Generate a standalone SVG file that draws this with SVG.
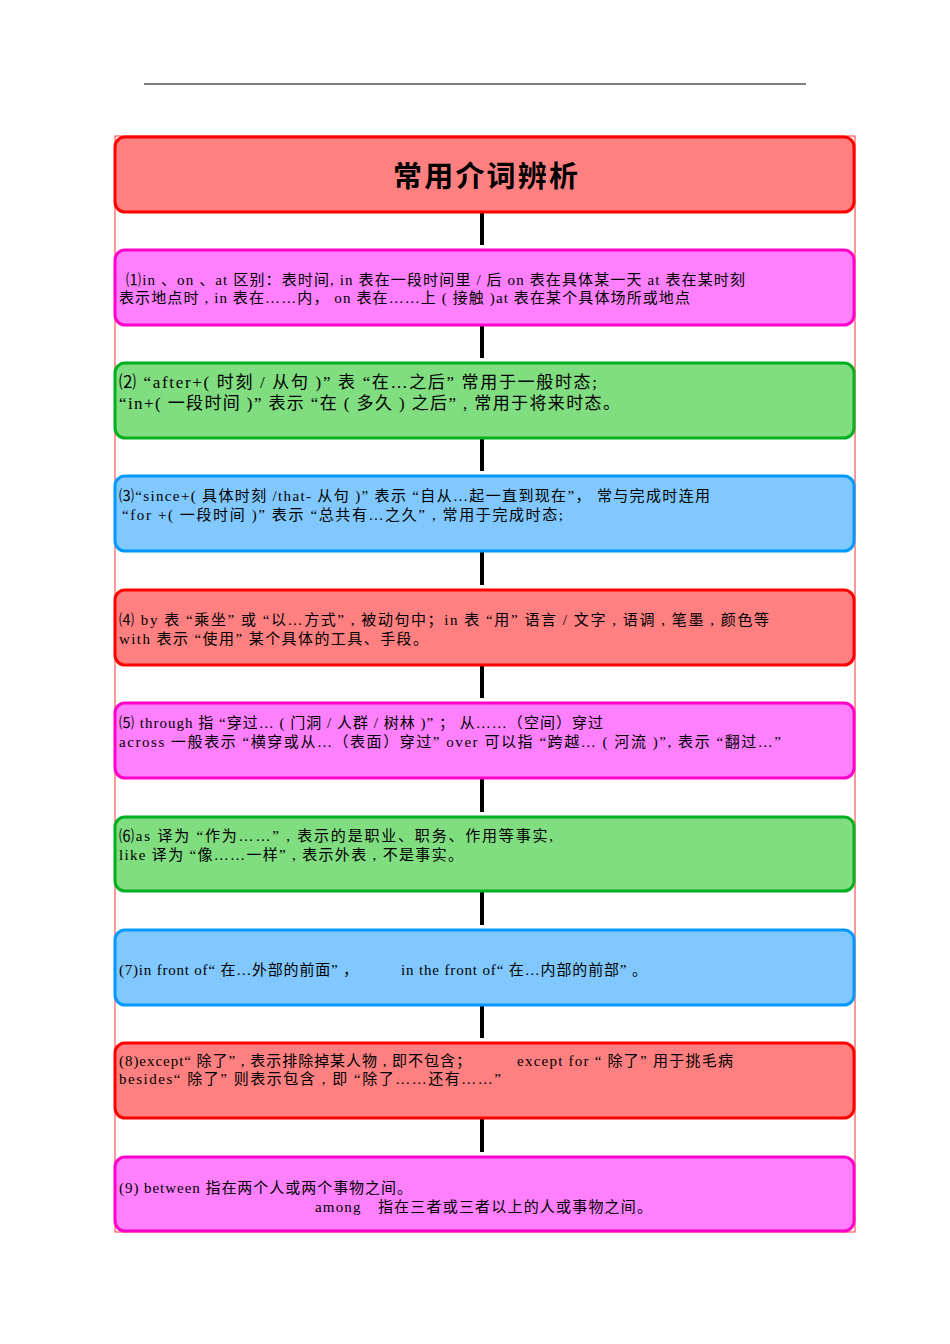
<svg xmlns="http://www.w3.org/2000/svg" width="950" height="1344" viewBox="0 0 950 1344">
<style>
.b{stroke-width:3}
.r{fill:#ff8080;stroke:#ff0000}
.m{fill:#ff80ff;stroke:#ff00cc}
.g{fill:#80dd80;stroke:#00b020}
.c{fill:#80c8ff;stroke:#0099ff}
text{font-family:"Liberation Serif","Noto Sans CJK SC",serif;font-size:15px;fill:#000}
.t{font-family:"Noto Sans CJK SC",sans-serif;font-size:29px;font-weight:bold}
</style>
<rect width="950" height="1344" fill="#fff"/>
<line x1="144" y1="84" x2="806" y2="84" stroke="#000" stroke-width="1"/>
<rect x="115" y="136" width="740" height="1096" fill="none" stroke="#ff0000" stroke-width="0.8"/>
<g id="connectors" stroke="#000" stroke-width="4">
<line x1="482" y1="213" x2="482" y2="245"/>
<line x1="482" y1="326" x2="482" y2="358"/>
<line x1="482" y1="439" x2="482" y2="471"/>
<line x1="482" y1="552" x2="482" y2="585"/>
<line x1="482" y1="666" x2="482" y2="698"/>
<line x1="482" y1="779" x2="482" y2="812"/>
<line x1="482" y1="892" x2="482" y2="925"/>
<line x1="482" y1="1006" x2="482" y2="1038"/>
<line x1="482" y1="1119" x2="482" y2="1152"/>
</g>
<g id="title"><rect class="b r" x="115" y="137" width="739" height="75" rx="10"/><text class="t" x="393" y="187" textLength="185" lengthAdjust="spacing">常用介词辨析</text></g>
<g id="n1"><rect class="b m" x="115" y="250" width="739" height="75" rx="10"/><text x="126" y="285" textLength="619" lengthAdjust="spacing">⑴in 、on 、at 区别：表时间, in 表在一段时间里 / 后 on 表在具体某一天 at 表在某时刻</text><text x="119" y="303" textLength="571" lengthAdjust="spacing">表示地点时 , in 表在……内， on 表在……上 ( 接触 )at 表在某个具体场所或地点</text></g>
<g id="n2"><rect class="b g" x="115" y="363" width="739" height="75" rx="10"/><text x="119" y="388" style="font-size:17px" textLength="478" lengthAdjust="spacing">⑵ “after+( 时刻 / 从句 )” 表 “在…之后” 常用于一般时态;</text><text x="119" y="409" style="font-size:17px" textLength="501" lengthAdjust="spacing">“in+( 一段时间 )” 表示 “在 ( 多久 ) 之后” , 常用于将来时态。</text></g>
<g id="n3"><rect class="b c" x="115" y="476" width="739" height="75" rx="10"/><text x="119" y="501" textLength="591" lengthAdjust="spacing">⑶“since+( 具体时刻 /that- 从句 )” 表示 “自从…起一直到现在”， 常与完成时连用</text><text x="122" y="520" textLength="441" lengthAdjust="spacing">“for +( 一段时间 )” 表示 “总共有…之久” , 常用于完成时态;</text></g>
<g id="n4"><rect class="b r" x="115" y="590" width="739" height="75" rx="10"/><text x="119" y="625" textLength="650" lengthAdjust="spacing">⑷ by 表 “乘坐” 或 “以…方式” , 被动句中；in 表 “用” 语言 / 文字 , 语调 , 笔墨 , 颜色等</text><text x="119" y="644" textLength="309" lengthAdjust="spacing">with 表示 “使用” 某个具体的工具、手段。</text></g>
<g id="n5"><rect class="b m" x="115" y="703" width="739" height="75" rx="10"/><text x="119" y="728" textLength="484" lengthAdjust="spacing">⑸ through 指 “穿过… ( 门洞 / 人群 / 树林 )” ； 从……（空间）穿过</text><text x="119" y="747" textLength="662" lengthAdjust="spacing">across 一般表示 “横穿或从…（表面）穿过” over 可以指 “跨越… ( 河流 )”, 表示 “翻过…”</text></g>
<g id="n6"><rect class="b g" x="115" y="817" width="739" height="74" rx="10"/><text x="119" y="841" textLength="434" lengthAdjust="spacing">⑹as 译为 “作为……” , 表示的是职业、职务、作用等事实,</text><text x="119" y="860" textLength="344" lengthAdjust="spacing">like 译为 “像……一样” , 表示外表 , 不是事实。</text></g>
<g id="n7"><rect class="b c" x="115" y="930" width="739" height="75" rx="10"/><text x="119" y="975" textLength="239" lengthAdjust="spacing">(7)in front of“ 在…外部的前面” ，</text><text x="401" y="975" textLength="246" lengthAdjust="spacing">in the front of“ 在…内部的前部” 。</text></g>
<g id="n8"><rect class="b r" x="115" y="1043" width="739" height="75" rx="10"/><text x="119" y="1066" textLength="352" lengthAdjust="spacing">(8)except“ 除了” , 表示排除掉某人物 , 即不包含；</text><text x="517" y="1066" textLength="216" lengthAdjust="spacing">except for “ 除了” 用于挑毛病</text><text x="119" y="1084" textLength="382" lengthAdjust="spacing">besides“ 除了” 则表示包含 , 即 “除了……还有……”</text></g>
<g id="n9"><rect class="b m" x="115" y="1157" width="739" height="74" rx="10"/><text x="119" y="1193" textLength="293" lengthAdjust="spacing">(9) between 指在两个人或两个事物之间。</text><text x="315" y="1212" textLength="337" lengthAdjust="spacing">among　指在三者或三者以上的人或事物之间。</text></g>
</svg>
